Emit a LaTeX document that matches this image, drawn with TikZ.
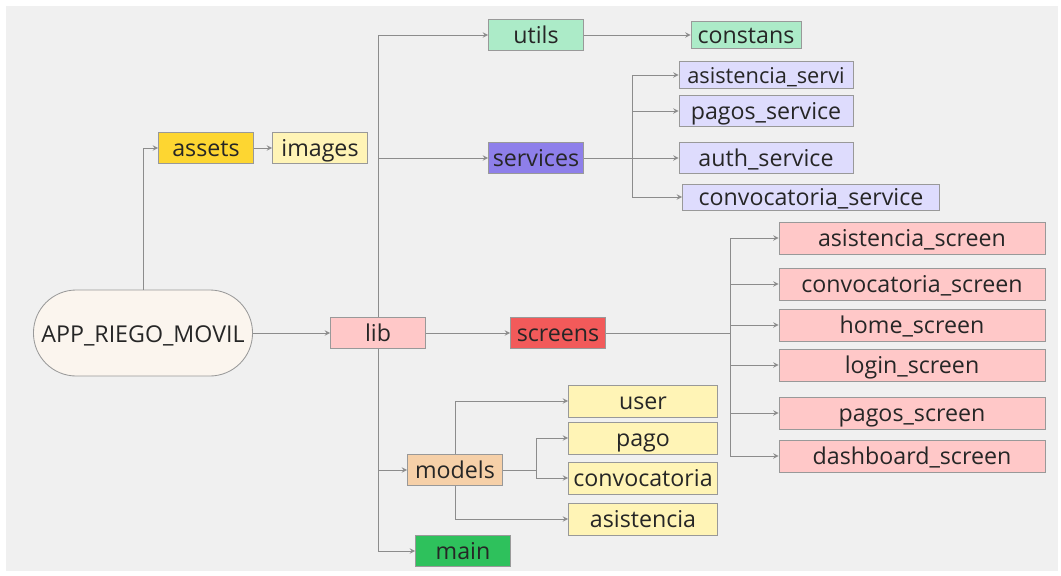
\documentclass[tikz,border=0pt]{standalone}
\usepackage{fontspec}
\setmainfont{Open Sans}
\tikzset{>=stealth}
\definecolor{bgGray}{HTML}{F0F0F0}
\definecolor{appFill}{HTML}{FBF5EE}
\definecolor{assetsFill}{HTML}{FDD631}
\definecolor{yellowFill}{HTML}{FFF4B6}
\definecolor{greenFill}{HTML}{ACEBC8}
\definecolor{servFill}{HTML}{8E7FEA}
\definecolor{lavFill}{HTML}{DEDCFD}
\definecolor{pinkFill}{HTML}{FFC8C8}
\definecolor{redFill}{HTML}{F25A5A}
\definecolor{peachFill}{HTML}{F6D0A8}
\definecolor{mainFill}{HTML}{2EC15C}
\tikzset{
  box/.style={draw=black!40, line width=0.6pt, inner sep=0pt,
    minimum width=2.375cm, minimum height=0.775cm,
    text height=13pt, text depth=1.2pt,
    font=\fontsize{16.5}{18}\selectfont, text=black!85},
  link/.style={draw=black!45, line width=0.7pt},
}

\begin{document}
\begin{tikzpicture}[x=0.025cm, y=-0.025cm]
  \fill[white] (0,0) rectangle (1061,575);
  \fill[bgGray] (6,6) rectangle (1058,571);

  \node[box, fill=appFill, rounded corners=1.07cm, minimum width=5.475cm, minimum height=2.15cm, text height=12.8pt, text depth=0pt] (app) at (143,333) {APP\_RIEGO\_MOVIL};

  \node[box, fill=assetsFill] (assets) at (206,148) {assets};
  \node[box, fill=yellowFill] (images) at (320,148) {images};
  \node[box, fill=pinkFill] (lib) at (378,333) {lib};

  \node[box, fill=greenFill] (utils) at (536,35) {utils};
  \node[box, fill=greenFill, minimum width=2.75cm, minimum height=0.675cm] (constans) at (746,35) {constans};

  \node[box, fill=servFill] (services) at (536,158) {services};
  \node[box, fill=lavFill, minimum width=4.35cm, minimum height=0.675cm, font=\fontsize{15.5}{18}\selectfont] (asisServ) at (766,75) {asistencia\_servi};
  \node[box, fill=lavFill, minimum width=4.35cm] (pagosServ) at (766,111) {pagos\_service};
  \node[box, fill=lavFill, minimum width=4.35cm] (authServ) at (766,158) {auth\_service};
  \node[box, fill=lavFill, minimum width=6.425cm, minimum height=0.65cm] (convServ) at (811,197) {convocatoria\_service};

  \node[box, fill=redFill] (screens) at (558,333) {screens};
  \node[box, fill=pinkFill, minimum width=6.65cm, minimum height=0.8cm] (asisScr) at (912,238) {asistencia\_screen};
  \node[box, fill=pinkFill, minimum width=6.65cm, minimum height=0.8cm] (convScr) at (912,284) {convocatoria\_screen};
  \node[box, fill=pinkFill, minimum width=6.65cm, minimum height=0.8cm] (homeScr) at (912,325) {home\_screen};
  \node[box, fill=pinkFill, minimum width=6.65cm, minimum height=0.8cm] (loginScr) at (912,365) {login\_screen};
  \node[box, fill=pinkFill, minimum width=6.65cm, minimum height=0.8cm] (pagosScr) at (912,413) {pagos\_screen};
  \node[box, fill=pinkFill, minimum width=6.65cm, minimum height=0.8cm] (dashScr) at (912,456) {dashboard\_screen};

  \node[box, fill=peachFill] (models) at (455,470) {models};
  \node[box, fill=yellowFill, minimum width=3.725cm, minimum height=0.8cm] (user) at (643,401) {user};
  \node[box, fill=yellowFill, minimum width=3.725cm, minimum height=0.8cm] (pago) at (643,438) {pago};
  \node[box, fill=yellowFill, minimum width=3.725cm, minimum height=0.8cm] (conv) at (643,478) {convocatoria};
  \node[box, fill=yellowFill, minimum width=3.725cm, minimum height=0.8cm] (asis) at (643,519) {asistencia};

  \node[box, fill=mainFill] (main) at (463,551) {main};

  \coordinate (servFork) at (632,158);
  \coordinate (scrFork) at (730,333);
  \coordinate (modFork) at (536,470);

  \draw[link, ->] (app.north) |- (assets.west);
  \draw[link, ->] (assets.east) -- (images.west);
  \draw[link, ->] (app.east) -- (lib.west);
  \draw[link, ->] (lib.north) |- (utils.west);
  \draw[link, ->] (lib.north) |- (services.west);
  \draw[link, ->] (utils.east) -- (constans.west);
  \draw[link, ->] (lib.east) -- (screens.west);
  \draw[link, ->] (lib.south) |- (models.west);
  \draw[link, ->] (lib.south) |- (main.west);

  \draw[link] (services.east) -- (servFork);
  \draw[link, ->] (servFork) |- (asisServ.west);
  \draw[link, ->] (servFork) |- (pagosServ.west);
  \draw[link, ->] (servFork) -- (authServ.west);
  \draw[link, ->] (servFork) |- (convServ.west);

  \draw[link] (screens.east) -- (scrFork);
  \draw[link, ->] (scrFork) |- (asisScr.west);
  \draw[link, ->] (scrFork) |- (convScr.west);
  \draw[link, ->] (scrFork) |- (homeScr.west);
  \draw[link, ->] (scrFork) |- (loginScr.west);
  \draw[link, ->] (scrFork) |- (pagosScr.west);
  \draw[link, ->] (scrFork) |- (dashScr.west);

  \draw[link, ->] (models.north) |- (user.west);
  \draw[link, ->] (models.south) |- (asis.west);
  \draw[link] (models.east) -- (modFork);
  \draw[link, ->] (modFork) |- (pago.west);
  \draw[link, ->] (modFork) |- (conv.west);
\end{tikzpicture}
\end{document}
